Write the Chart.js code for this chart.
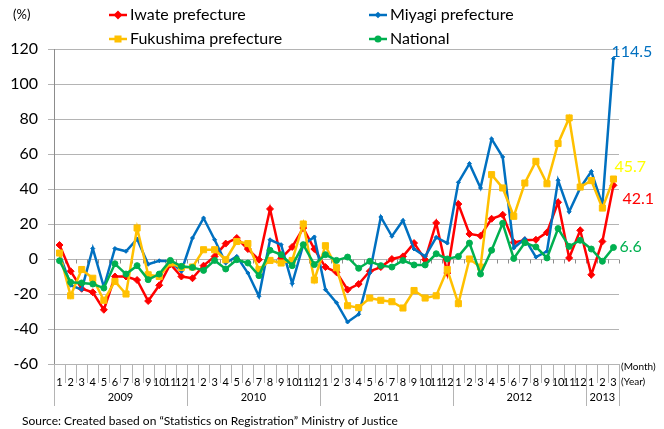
<!DOCTYPE html>
<html>
<head>
<meta charset="utf-8">
<script src="https://cdn.jsdelivr.net/npm/chart.js@4.4.1/dist/chart.umd.min.js"></script>
<style>
body { margin: 0; background: #fff; }
#wrap { width: 664px; height: 429px; position: relative; }
</style>
</head>
<body>
<div id="wrap"><canvas id="lineChart"></canvas></div>
<script>
var years = ["2009", "2010", "2011", "2012", "2013"];
var monthsPerYear = [12, 12, 12, 12, 3];

var iwate = [8, -7, -17, -19, -29, -10, -10, -12, -24, -15, -3, -10,
    -11, -3.8, 1.5, 8.8, 12, 5.7, -0.4, 28.6, 0.4, 6.9, 17.7, 5.7,
    -4.6, -7.6, -17.5, -14.3, -7, -4.6, 0, 1.5, 9.1, -0.4, 20.6, -8,
    31.4, 14.3, 13.3, 23, 25.3, 9.5, 10.7, 11, 15.2, 32.4, 0.6, 16.4,
    -9, 10, 42.1];
var miyagi = [3, -15, -17.5, 6, -16, 6, 4.4, 11.4, -3, -1, -1.3, -7,
    12, 23.4, 11, -2.3, 1.5, -8, -21.3, 11, 8.2, -14, 8.2, 12.6,
    -17.5, -25, -36, -31.6, -8, 24, 13, 22, 5.7, 1.5, 12.4, 9.1,
    43.8, 54.5, 40.6, 68.6, 58.3, 6.3, 11.6, 1.1, 4.4, 45, 27, 40.6,
    50, 31, 114.5];
var fukushima = [3.4, -21, -6, -11, -23.6, -12.8, -20, 17.7, -9, -10, -2.3, -4.8,
    -4.6, 5.3, 5.3, -0.4, 10, 8.8, -6, -0.8, -2.3, -0.8, 20, -12,
    7.6, -5, -26.7, -27.8, -22.3, -23.6, -24.4, -28, -18, -22.3, -21, -6,
    -25.5, 0, -4.6, 48.2, 40.6, 24.4, 43.4, 55.8, 43, 66, 80.6, 41.1,
    44.8, 29.1, 45.7];
var national = [-1, -13.3, -13.7, -14.3, -16.6, -2.7, -8.6, -3.8, -11.8, -8.6, -0.8, -4.2,
    -4.8, -6.5, -0.8, -5.7, -0.4, -2.3, -9.5, 5, 2.5, -3.8, 8.2, -3.2,
    2.5, -0.8, 1.1, -5.3, -1.3, -3.8, -4.6, -0.8, -3.4, -3.4, 3, 0,
    1.5, 9.1, -8.6, 5, 20.4, 0.3, 9.3, 6.9, 0.6, 17.4, 7.2, 10.7,
    5.7, -1.3, 6.6];

var months = [];
monthsPerYear.forEach(function (n) {
    for (var m = 1; m <= n; m++) months.push(String(m));
});

var FONT = "Lato, 'Liberation Sans', sans-serif";
var gridColor = "#b4b4b4";
var axisColor = "#8c8c8c";

// end labels next to the last point: dx, dy, text colour
var endLabels = [
    { dx: 9, dy: 14, color: "#ff0000" },
    { dx: -2, dy: -7, color: "#0070c0" },
    { dx: 1, dy: -12, color: "#ffff00" },
    { dx: 6, dy: -1, color: "#00b050" }
];

// legend slots (start of the sample line)
var legendPos = [
    { x: 109, y: 15 },
    { x: 369, y: 15 },
    { x: 109, y: 39 },
    { x: 369, y: 39 }
];

var extras = {
    id: "extras",
    beforeDatasetsDraw: function (chart) {
        var ctx = chart.ctx, area = chart.chartArea, y = chart.scales.y;
        var step = (area.right - area.left) / months.length;
        var y0 = Math.round(y.getPixelForValue(0)) + 0.5;
        ctx.save();
        ctx.strokeStyle = axisColor;
        ctx.lineWidth = 1;
        ctx.beginPath();
        for (var i = 1; i <= months.length; i++) {
            var px = Math.round(area.left + step * i) + 0.5;
            ctx.moveTo(px, y0);
            ctx.lineTo(px, y0 + 4);
        }
        ctx.stroke();
        ctx.restore();
    },
    afterDraw: function (chart) {
        var ctx = chart.ctx, area = chart.chartArea;
        var step = (area.right - area.left) / months.length;
        ctx.save();

        // month and year separators below the plot
        ctx.strokeStyle = gridColor;
        ctx.lineWidth = 1;
        ctx.beginPath();
        var idx = 0;
        var yearStarts = [0];
        monthsPerYear.forEach(function (n) { idx += n; yearStarts.push(idx); });
        for (var i = 0; i <= months.length; i++) {
            var px = Math.round(area.left + step * i) + 0.5;
            var long = yearStarts.indexOf(i) >= 0;
            ctx.moveTo(px, area.bottom);
            ctx.lineTo(px, area.bottom + (long ? 42 : 19));
        }
        ctx.stroke();

        // year labels
        ctx.fillStyle = "#000";
        ctx.font = "11px " + FONT;
        ctx.textAlign = "center";
        ctx.textBaseline = "middle";
        for (var k = 0; k < years.length; k++) {
            var cx = area.left + step * (yearStarts[k] + yearStarts[k + 1]) / 2;
            ctx.fillText(years[k], cx, area.bottom + 33);
        }

        ctx.font = "10px " + FONT;
        ctx.textAlign = "left";
        ctx.fillText("(Month)", area.right + 2, area.bottom + 3);
        ctx.fillText("(Year)", area.right + 2, area.bottom + 18);

        ctx.font = "12px " + FONT;
        ctx.fillText("Source: Created based on \u201cStatistics on Registration\u201d Ministry of Justice", 22, 421);

        ctx.font = "13px " + FONT;
        ctx.fillText("(%)", 13, 15);

        // end value labels
        ctx.font = "16px " + FONT;
        chart.data.datasets.forEach(function (ds, d) {
            var meta = chart.getDatasetMeta(d);
            var pt = meta.data[meta.data.length - 1];
            var lab = endLabels[d];
            ctx.fillStyle = lab.color;
            ctx.fillText(ds.data[ds.data.length - 1].toFixed(1), pt.x + lab.dx, pt.y + lab.dy);
        });

        // legend
        chart.data.datasets.forEach(function (ds, d) {
            var p = legendPos[d];
            ctx.strokeStyle = ds.borderColor;
            ctx.lineWidth = 2.5;
            ctx.beginPath();
            ctx.moveTo(p.x, p.y);
            ctx.lineTo(p.x + 18, p.y);
            ctx.stroke();
            Chart.helpers.drawPoint(ctx, {
                pointStyle: ds.pointStyle, radius: ds.pointRadius * 0.75, borderWidth: 1, rotation: 0
            }, p.x + 9, p.y);
            ctx.fillStyle = ds.borderColor;
            ctx.fill();
            ctx.fillStyle = "#000";
            ctx.font = "16px " + FONT;
            ctx.fillText(ds.label, p.x + 21, p.y);
        });

        ctx.restore();
    }
};

new Chart("lineChart", {
    type: "line",
    data: {
        labels: months,
        datasets: [
            {
                label: "Iwate prefecture",
                data: iwate,
                borderColor: "#ff0000",
                backgroundColor: "#ff0000",
                pointStyle: "rectRot",
                pointRadius: 3.5,
                order: 3,
            },
            {
                label: "Miyagi prefecture",
                data: miyagi,
                borderColor: "#0070c0",
                backgroundColor: "#0070c0",
                pointStyle: "rectRot",
                pointRadius: 2,
                order: 2,
            },
            {
                label: "Fukushima prefecture",
                data: fukushima,
                borderColor: "#ffc000",
                backgroundColor: "#ffc000",
                pointStyle: "rect",
                pointRadius: 4.3,
                order: 1,
            },
            {
                label: "National",
                data: national,
                borderColor: "#00b050",
                backgroundColor: "#00b050",
                pointStyle: "circle",
                pointRadius: 3,
                order: 0,
            },
        ],
    },
    options: {
        responsive: true,
        maintainAspectRatio: false,
        animation: false,
        elements: {
            line: { borderWidth: 2.5, tension: 0 },
            point: { borderWidth: 1 },
        },
        layout: { padding: { left: 0, right: 45, top: 49, bottom: 0 } },
        plugins: {
            legend: { display: false },
            tooltip: { enabled: false },
        },
        scales: {
            x: {
                offset: true,
                grid: { display: false },
                border: { display: false },
                ticks: {
                    autoSkip: false,
                    maxRotation: 0,
                    color: "#000",
                    padding: 4,
                    font: { family: FONT, size: 11 },
                },
                afterFit: function (s) { s.height = 65; },
            },
            y: {
                min: -60,
                max: 120,
                ticks: {
                    stepSize: 20,
                    color: "#000",
                    padding: 10,
                    font: { family: FONT, size: 16 },
                },
                grid: { color: gridColor, tickLength: 6 },
                border: { color: axisColor },
                afterFit: function (s) { s.width = 54; },
            },
        },
    },
    plugins: [extras],
});
</script>
</body>
</html>
